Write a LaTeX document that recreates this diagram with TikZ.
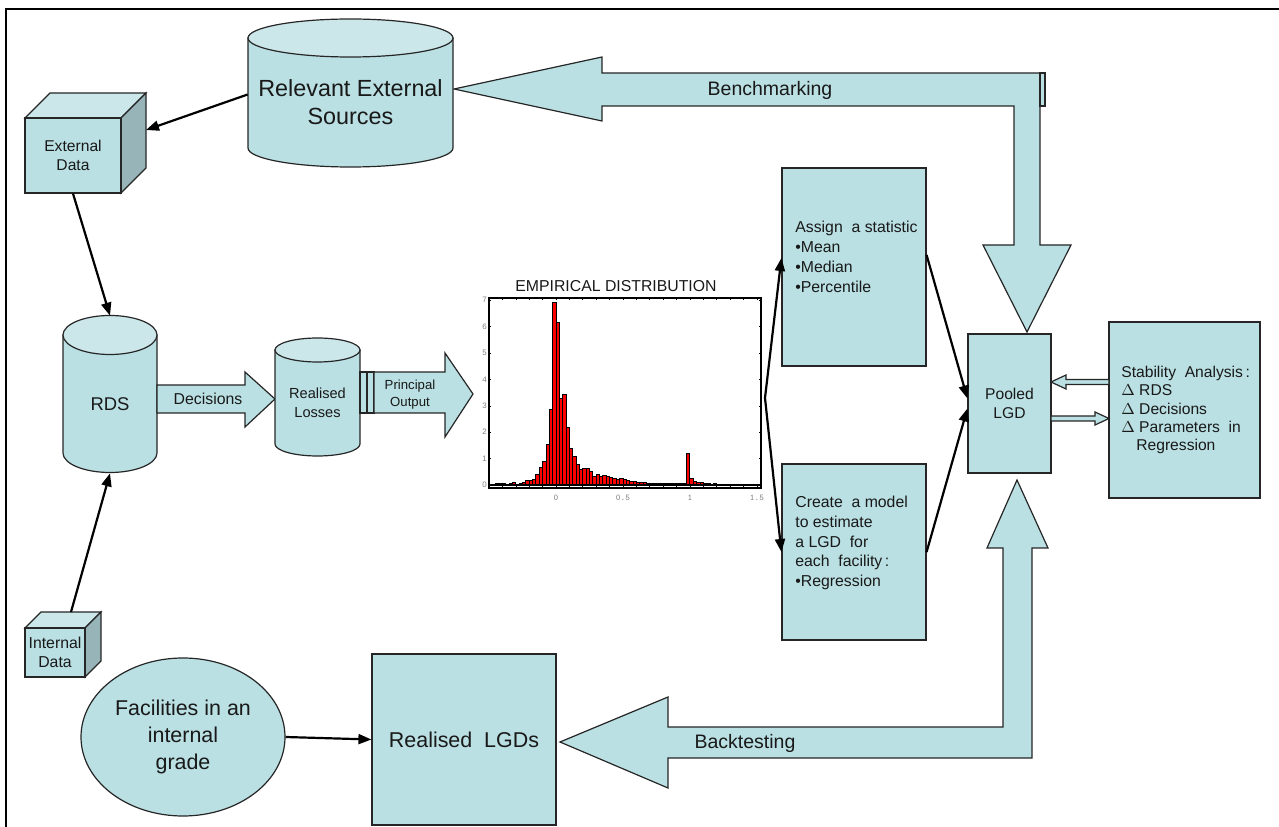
\documentclass[tikz,border=0pt]{standalone}
\usepackage{fontspec}
\setmainfont{Liberation Sans}
\usepackage{tikz}
\usetikzlibrary{calc}
\usetikzlibrary{shapes}
\usetikzlibrary{arrows.meta}

\newlength\pxu
\setlength\pxu{0.02cm}
\definecolor{boxfill}{RGB}{186,224,227}
\definecolor{boxtop}{RGB}{203,231,234}
\definecolor{boxside}{RGB}{151,181,184}
\newcommand*\fsz[2]{\fontsize{#1}{#2}\selectfont}

\tikzset{
    box/.style={draw=black!85, fill=boxfill, line width=1.2\pxu, inner sep=0pt},
    txt/.style={inner sep=0pt, align=center, text=black!90},
    link/.style={line width=2.2\pxu, -{Triangle[length=7.4pt,width=5.7pt]}},
    bar/.style={draw=black, fill=red, line width=0.9\pxu},
}

\begin{document}
\begin{tikzpicture}[x=0.02cm, y=-0.02cm]
        \newcommand*\drum[5]{
            \filldraw[box] (#1,#3) -- (#1,#4) arc[start angle=180, end angle=0, x radius={(#2-#1)/2}, y radius=#5] -- (#2,#3) -- cycle;
            \filldraw[box, fill=boxtop] ({(#1+#2)/2},#3) ellipse[x radius={(#2-#1)/2}, y radius=#5];}
        \newcommand*\crate[5]{
            \filldraw[box, fill=boxtop] (#1,#2) -- (#1+#5,#2-#5) -- (#3+#5,#2-#5) -- (#3,#2) -- cycle;
            \filldraw[box, fill=boxside] (#3,#2) -- (#3+#5,#2-#5) -- (#3+#5,#4-#5) -- (#3,#4) -- cycle;}
        \useasboundingbox (0,0) rectangle (1279,827);
        \draw[line width=2\pxu] (6,827) -- (6,9) -- (1279,9);

        % big arrows
        \filldraw[box] (454,89) -- (602,57) -- (602,73) -- (1040,73) -- (1040,245) -- (1071,245) -- (1027,332)
            -- (983,245) -- (1014,245) -- (1014,106) -- (602,106) -- (602,121) -- cycle;
        \draw[box] (1040,73) rectangle (1045,106);
        \filldraw[box] (560,742) -- (668,697) -- (668,727) -- (1003,727) -- (1003,548) -- (987,548) -- (1017,480)
            -- (1048,548) -- (1032,548) -- (1032,758) -- (668,758) -- (668,788) -- cycle;
        \node[txt, font=\fsz{11.1}{13}] (bench) at (770,90) {Benchmarking};
        \node[txt, font=\fsz{11.1}{13}] (back) at (745,743) {Backtesting};

        % sources
        \drum{248}{453}{38}{148}{19}
        \node[txt, font=\fsz{13.3}{15.9}, minimum width=205\pxu, minimum height=129\pxu] (res) at (350.5,102.5) {Relevant External\\Sources};
        \crate{25}{118}{121}{193}{25}
        \node[box, txt, font=\fsz{8.9}{10.8}, minimum width=96\pxu, minimum height=75\pxu] (extdata) at (73,155.5) {External\\Data};
        \crate{25}{628}{85}{677}{16}
        \node[box, txt, font=\fsz{9}{11.2}, minimum width=60\pxu, minimum height=49\pxu] (intdata) at (55,652.5) {Internal\\Data};
        \coordinate (extside) at (146,130);
        \coordinate (inttop) at (71,612);

        % rds and losses
        \drum{63}{157}{335}{453}{19.5}
        \node[txt, font=\fsz{10.5}{12}, minimum width=94\pxu, minimum height=138\pxu] (rds) at (110,404) {RDS};
        \filldraw[box] (157,385) -- (245,385) -- (245,372) -- (275,399) -- (245,427) -- (245,413) -- (157,413) -- cycle;
        \node[txt, font=\fsz{9}{11}] (dec) at (208,399) {Decisions};
        \drum{275}{360}{350}{444}{12}
        \node[txt, font=\fsz{8.3}{10.8}, minimum width=85\pxu, minimum height=106\pxu] (losses) at (317.5,403) {Realised\\Losses};
        \draw[box] (360,372) rectangle (367,413);
        \draw[box] (367,372) rectangle (374,413);
        \filldraw[box] (374,372) -- (445,372) -- (445,353) -- (473,394) -- (445,437) -- (445,413) -- (374,413) -- cycle;
        \node[txt, font=\fsz{7.5}{9.6}] (out) at (410,395) {Principal\\Output};

        % empirical distribution
        \node[txt, font=\fsz{9}{11}] (histtitle) at (616,286) {EMPIRICAL DISTRIBUTION};
        \begin{scope}[shift={(556,485)}, x=2.68cm, y=0.528cm]
            \fill[white] (-0.5,-0.11) rectangle (1.53,7.08);
            \foreach \i/\h in {-20/0.02,-19/0.03,-18/0.05,-17/0.04,-16/0.05,-15/0.03,-14/0.05,-13/0.1,-12/0.03,
                -11/0.06,-10/0.1,-9/0.16,-8/0.19,-7/0.21,-6/0.4,-5/0.67,-4/0.88,-3/1.55,-2/2.86,-1/6.9,
                0/6.15,1/3.28,2/3.43,3/2.18,4/1.37,5/1.1,6/0.78,7/0.6,8/0.63,9/0.63,10/0.5,11/0.32,12/0.4,
                13/0.34,14/0.36,15/0.34,16/0.3,17/0.25,18/0.21,19/0.25,20/0.21,21/0.16,22/0.15,23/0.13,
                24/0.11,25/0.08,26/0.08,27/0.06,28/0.06,29/0.07,30/0.05,31/0.05,32/0.05,33/0.05,34/0.05,
                35/0.05,36/0.05,37/0.05,38/0.06,39/1.2,40/0.25,41/0.15,42/0.1,43/0.08,44/0.06,45/0.05,
                46/0.03,47/0.05,48/0.03,49/0.02,50/0.02,52/0.02}
                \draw[bar] (\i*0.025,0) rectangle ++(0.025,\h);
            \draw[line width=2.5\pxu] (-0.5,0) -- (1.53,0);
            \foreach \y in {0,...,7} {
                \draw[line width=0.6\pxu] (-0.5,\y) -- ++(0.015,0);
                \draw[line width=0.6\pxu] (1.53,\y) -- ++(-0.015,0);
                \node[txt, anchor=east, text=gray, font=\fsz{4.5}{5}] (ylab\y) at (-0.515,\y) {\y};}
            \foreach \x in {-0.4,-0.3,...,1.5} {
                \draw[line width=0.6\pxu] (\x,7.08) -- ++(0,-0.08);
                \draw[line width=0.6\pxu] (\x,-0.11) -- ++(0,0.08);}
            \foreach \x/\t in {0/0,0.5/0.5,1/1,1.5/1.5}
                \node[txt, text=gray, font=\ttfamily\fsz{5}{6}] (xlab\t) at (\x,-0.5) {\t};
            \draw[line width=1.6\pxu] (-0.5,-0.11) rectangle (1.53,7.08);
        \end{scope}
        \coordinate (fork) at (765,398);

        % estimation
        \node[box, minimum width=144\pxu, minimum height=198\pxu] (assign) at (854,267) {};
        \node[txt, anchor=west, align=left, font=\fsz{9}{11.3}] (assigntxt) at (795,257)
            {Assign\ \ a statistic\\•Mean\\•Median\\•Percentile};
        \node[box, minimum width=144\pxu, minimum height=176\pxu] (create) at (854,552) {};
        \node[txt, anchor=west, align=left, font=\fsz{9}{11.3}] (createtxt) at (795,543)
            {Create\ \ a model\\to estimate\\a LGD\ \ for\\each\ \ facility\,:\\•Regression};
        \node[box, txt, font=\fsz{8.9}{10.8}, minimum width=83\pxu, minimum height=139\pxu] (pooled) at (1009.5,403.5) {Pooled\\LGD};
        \node[box, minimum width=151\pxu, minimum height=176\pxu] (stab) at (1184.5,410) {};
        \node[txt, anchor=west, align=left, font=\fsz{8.9}{10.5}] (stabtxt) at (1121,410)
            {Stability\ \ Analysis\,:\\$\Delta$ RDS\\$\Delta$ Decisions\\$\Delta$ Parameters\ \ in\\\hspace{15\pxu}Regression};
        \filldraw[box] (1051,382) -- (1066,375) -- (1066,379.5) -- (1109,379.5) -- (1109,384.5) -- (1066,384.5) -- (1066,389) -- cycle;
        \filldraw[box] (1051,416) -- (1095,416) -- (1095,412) -- (1109,418.5) -- (1095,425) -- (1095,421) -- (1051,421) -- cycle;

        % backtesting side
        \node[box, ellipse, txt, font=\fsz{12.2}{15.6}, minimum width=204\pxu, minimum height=158\pxu] (fac) at (183,737) {Facilities in an\\internal\\grade};
        \node[box, txt, font=\fsz{12.2}{14}, minimum width=184\pxu, minimum height=171\pxu] (lgds) at (464,739.5) {Realised\ \ LGDs};

        % links
        \draw[link] ([yshift=8\pxu]res.west) -- (extside);
        \draw[link] (extdata.south) -- ([yshift=19\pxu]rds.north);
        \draw[link] (inttop) -- (rds.south);
        \draw[link] (fork) -- ([yshift=9\pxu]assign.west);
        \draw[link] (fork) -- (create.west);
        \draw[link] ([yshift=12\pxu]assign.east) -- ([yshift=5\pxu]pooled.west);
        \draw[link] (create.east) -- ([yshift=-5\pxu]pooled.west);
        \draw[link] (fac.east) -- (lgds.west);
\end{tikzpicture}
\end{document}
